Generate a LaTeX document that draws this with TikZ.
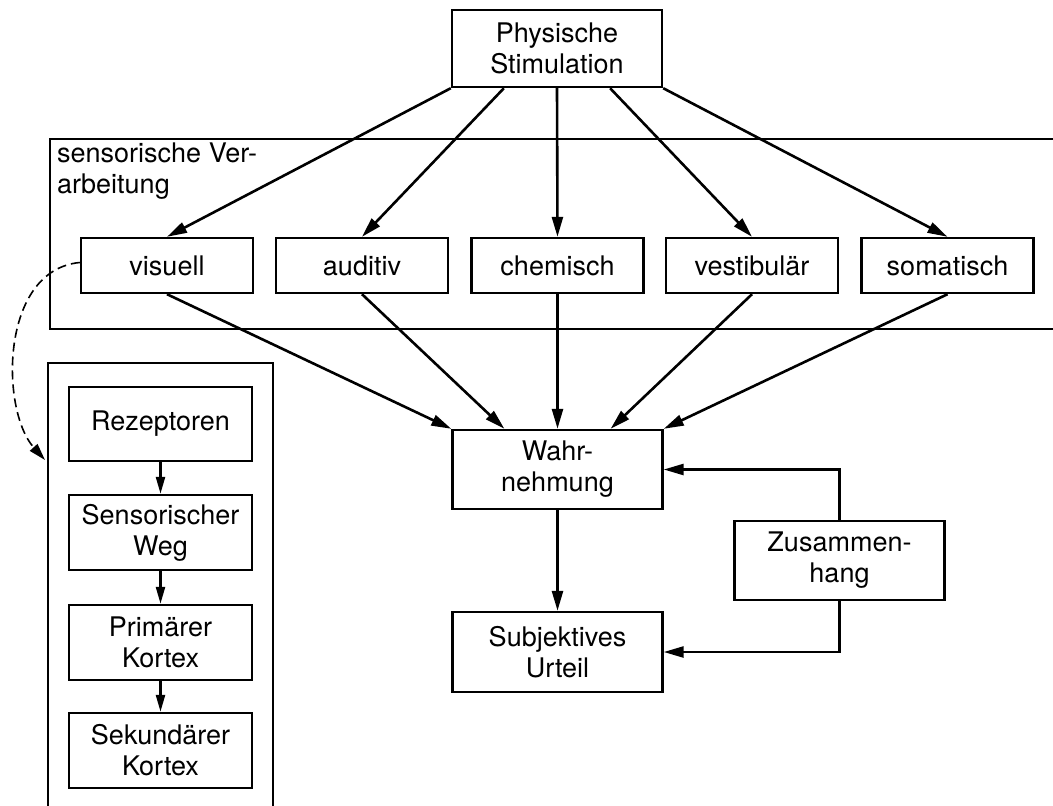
\documentclass[tikz,border=0pt]{standalone}
\usepackage{fontspec}
\setmainfont{TeX Gyre Heros}
\usetikzlibrary{arrows.meta,calc}
\tikzset{
  box/.style={draw,line width=2.4pt,inner sep=0pt,align=center,font=\fontsize{27}{31}\selectfont},
  frame/.style={draw,line width=1.8pt},
  arr/.style={line width=2.6pt,-{Triangle[length=20pt,width=11pt]}},
  sarr/.style={line width=2.4pt,-{Triangle[length=17pt,width=9pt]}},
  darr/.style={line width=1.6pt,dash pattern=on 9pt off 5pt,-{Triangle[length=17pt,width=10pt]}},
}
\begin{document}
\begin{tikzpicture}[x=1pt,y=-1pt]
\useasboundingbox (0,0) rectangle (1053,806);
\clip (0,0) rectangle (1053,806);
\fill[white] (0,0) rectangle (1053,806);
% containers
\draw[frame] (1070,139) -- (50,139) -- (50,329) -- (1070,329);
\node[anchor=north west,inner sep=0pt,align=left,font=\fontsize{27}{31}\selectfont] (sv) at (57,143) {sensorische Ver-\\arbeitung};
\draw[frame] (48,830) -- (48,363) -- (273,363) -- (273,830);
% nodes
\node[box,minimum width=210pt,minimum height=77pt] (phys) at (557,48.5) {Physische\\Stimulation};
\node[box,minimum width=172pt,minimum height=55pt] (vis) at (167,265.5) {visuell};
\node[box,minimum width=172pt,minimum height=55pt] (aud) at (362,265.5) {auditiv};
\node[box,minimum width=172pt,minimum height=55pt] (che) at (557.5,265.5) {chemisch};
\node[box,minimum width=172pt,minimum height=55pt] (ves) at (752,265.5) {vestibulär};
\node[box,minimum width=172pt,minimum height=55pt] (som) at (947.5,265.5) {somatisch};
\node[box,minimum width=210pt,minimum height=79pt] (wahr) at (557.5,469.5) {Wahr-\\nehmung};
\node[box,minimum width=210pt,minimum height=80pt] (subj) at (557.5,652) {Subjektives\\Urteil};
\node[box,minimum width=210pt,minimum height=79pt] (zus) at (839.5,560.5) {Zusammen-\\hang};
\node[box,minimum width=183pt,minimum height=74pt] (rez) at (160.5,424) {Rezeptoren};
\node[box,minimum width=183pt,minimum height=75pt] (sens) at (160.5,532.5) {Sensorischer\\Weg};
\node[box,minimum width=183pt,minimum height=75pt] (prim) at (160.5,642.5) {Primärer\\Kortex};
\node[box,minimum width=183pt,minimum height=75pt] (sek) at (160.5,750.5) {Sekundärer\\Kortex};
% arrows from stimulation
\draw[arr] (phys.south west) -- (vis.north);
\draw[arr] ($(phys.south west)!0.25!(phys.south east)$) -- (aud.north);
\draw[arr] (phys.south) -- (che.north);
\draw[arr] ($(phys.south west)!0.75!(phys.south east)$) -- (ves.north);
\draw[arr] (phys.south east) -- (som.north);
% arrows to Wahrnehmung
\draw[arr] (vis.south) -- (wahr.north west);
\draw[arr] (aud.south) -- ($(wahr.north west)!0.25!(wahr.north east)$);
\draw[arr] (che.south) -- (wahr.north);
\draw[arr] (ves.south) -- ($(wahr.north west)!0.75!(wahr.north east)$);
\draw[arr] (som.south) -- (wahr.north east);
\draw[arr] (wahr.south) -- (subj.north);
% feedback
\draw[arr] (zus.north) |- (wahr.east);
\draw[arr] (zus.south) |- (subj.east);
% left chain
\draw[sarr] (rez.south) -- (sens.north);
\draw[sarr] (sens.south) -- (prim.north);
\draw[sarr] (prim.south) -- (sek.north);
% dashed curve
\coordinate (dtip) at (45,460);
\draw[darr] ([yshift=3pt]vis.west) .. controls (0,270) and (0,410) .. (dtip);
\end{tikzpicture}
\end{document}
